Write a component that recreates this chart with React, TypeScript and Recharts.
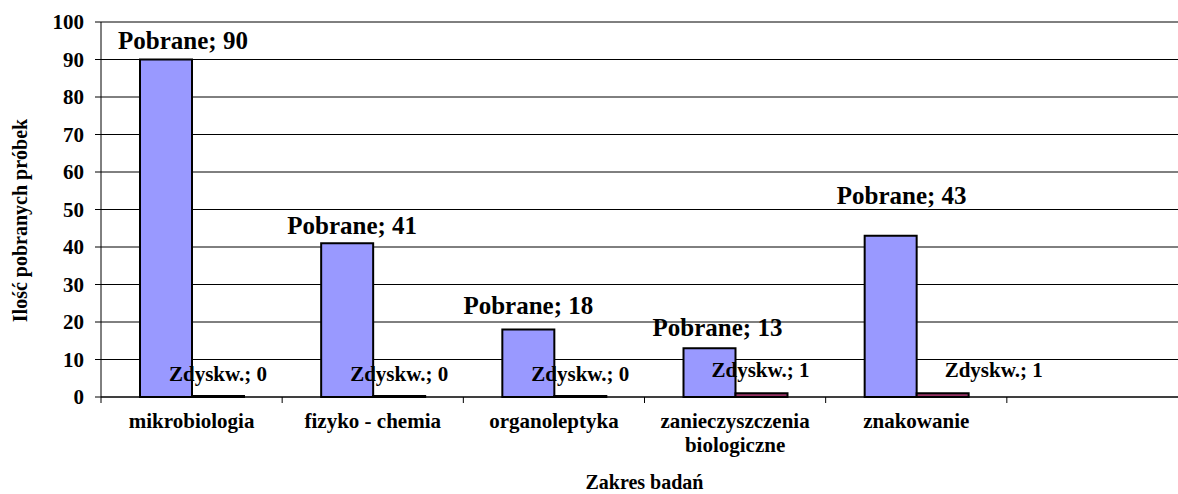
import { BarChart, Bar, XAxis, YAxis, CartesianGrid, LabelList } from "recharts";

const CATEGORIES = [
  "mikrobiologia",
  "fizyko - chemia",
  "organoleptyka",
  "zanieczyszczenia\nbiologiczne",
  "znakowanie",
  "",
];
const POBRANE = [90, 41, 18, 13, 43, null];
const ZDYSKW = [0, 0, 0, 1, 1, null];
const Y_TICKS = [0, 10, 20, 30, 40, 50, 60, 70, 80, 90, 100];

// labels in the original were dragged around by hand, so nudge them a bit
const POBRANE_DX = [17, 5, 0, 8, 11, 0];
const POBRANE_DY = [-11, -9, -16, -12, -32, 0];
const ZDYSKW_DX = [0, 0, 0, -1, 51, 0];

const FONT = '"Liberation Serif", "Times New Roman", serif';

const data = CATEGORIES.map((name, i) => ({
  name,
  pobrane: POBRANE[i],
  zdyskw: ZDYSKW[i],
}));

function CategoryTick(props: any) {
  const { x, y, payload } = props;
  const half = payload?.offset || 90.6;
  const axisY = y - 6;
  const lines = String(payload?.value ?? "").split("\n");
  return (
    <g>
      <line x1={x - half} y1={axisY} x2={x - half} y2={axisY + 6} stroke="#000" strokeWidth={1} />
      {lines.map((l, i) => (
        <text
          key={i}
          x={x}
          y={axisY + 31 + i * 24}
          textAnchor="middle"
          fontFamily={FONT}
          fontWeight="bold"
          fontSize={21}
          fill="#000"
        >
          {l}
        </text>
      ))}
    </g>
  );
}

const pobraneLabel = (p: any) => {
  const { x, y, width, value, index } = p;
  if (value == null) return null;
  return (
    <text
      x={x + width / 2 + POBRANE_DX[index]}
      y={y + POBRANE_DY[index]}
      textAnchor="middle"
      fontFamily={FONT}
      fontWeight="bold"
      fontSize={25}
      fill="#000"
    >
      {`Pobrane; ${value}`}
    </text>
  );
};

const zdyskwLabel = (p: any) => {
  const { x, y, width, height, value, index } = p;
  if (value == null) return null;
  const top = Math.min(y, y + (height || 0));
  return (
    <text
      x={x + width / 2 + ZDYSKW_DX[index]}
      y={value === 0 ? 381 : top - 16}
      textAnchor="middle"
      fontFamily={FONT}
      fontWeight="bold"
      fontSize={21}
      fill="#000"
    >
      {`Zdyskw.; ${value}`}
    </text>
  );
};

const yTitle = (p: any) => {
  const vb = p?.viewBox || { x: 0, y: 22, width: 101, height: 375 };
  const cx = vb.x + 27;
  const cy = vb.y + vb.height / 2 + 11;
  return (
    <text
      x={0}
      y={0}
      transform={`translate(${cx}, ${cy}) rotate(-90)`}
      textAnchor="middle"
      fontFamily={FONT}
      fontWeight="bold"
      fontSize={20}
      fill="#000"
    >
      Ilość pobranych próbek
    </text>
  );
};

const xTitle = (p: any) => {
  const vb = p?.viewBox || { x: 101, y: 397, width: 1087, height: 97 };
  return (
    <text
      x={vb.x + vb.width / 2}
      y={vb.y + 92}
      textAnchor="middle"
      fontFamily={FONT}
      fontWeight="bold"
      fontSize={20}
      fill="#000"
    >
      Zakres badań
    </text>
  );
};

export default function App() {
  return (
    <div
      style={{
        position: "fixed",
        left: 0,
        top: 0,
        width: 1178,
        height: 494,
        overflow: "hidden",
        background: "#fff",
      }}
    >
      <BarChart
        width={1200}
        height={494}
        data={data}
        margin={{ top: 22, right: 12, bottom: 0, left: 0 }}
        barGap={0}
      >
        <CartesianGrid vertical={false} stroke="#000" strokeWidth={1} />
        <XAxis
          dataKey="name"
          height={97}
          interval={0}
          tickLine={false}
          tickSize={6}
          tickMargin={0}
          axisLine={{ stroke: "#000", strokeWidth: 1 }}
          tick={<CategoryTick />}
          label={xTitle}
        />
        <YAxis
          width={101}
          domain={[0, 100]}
          ticks={Y_TICKS}
          interval={0}
          tickSize={6}
          tickMargin={11}
          axisLine={{ stroke: "#000", strokeWidth: 1 }}
          tickLine={{ stroke: "#000", strokeWidth: 1 }}
          tick={{ fontFamily: FONT, fontWeight: "bold", fontSize: 21, fill: "#000" }}
          label={yTitle}
        />
        <Bar
          dataKey="pobrane"
          name="Pobrane"
          fill="#9999FF"
          stroke="#000"
          strokeWidth={2}
          barSize={52}
          isAnimationActive={false}
        >
          <LabelList dataKey="pobrane" content={pobraneLabel} />
        </Bar>
        <Bar
          dataKey="zdyskw"
          name="Zdyskw."
          fill="#993366"
          stroke="#000"
          strokeWidth={2}
          barSize={52}
          minPointSize={1}
          isAnimationActive={false}
        >
          <LabelList dataKey="zdyskw" content={zdyskwLabel} />
        </Bar>
      </BarChart>
    </div>
  );
}
